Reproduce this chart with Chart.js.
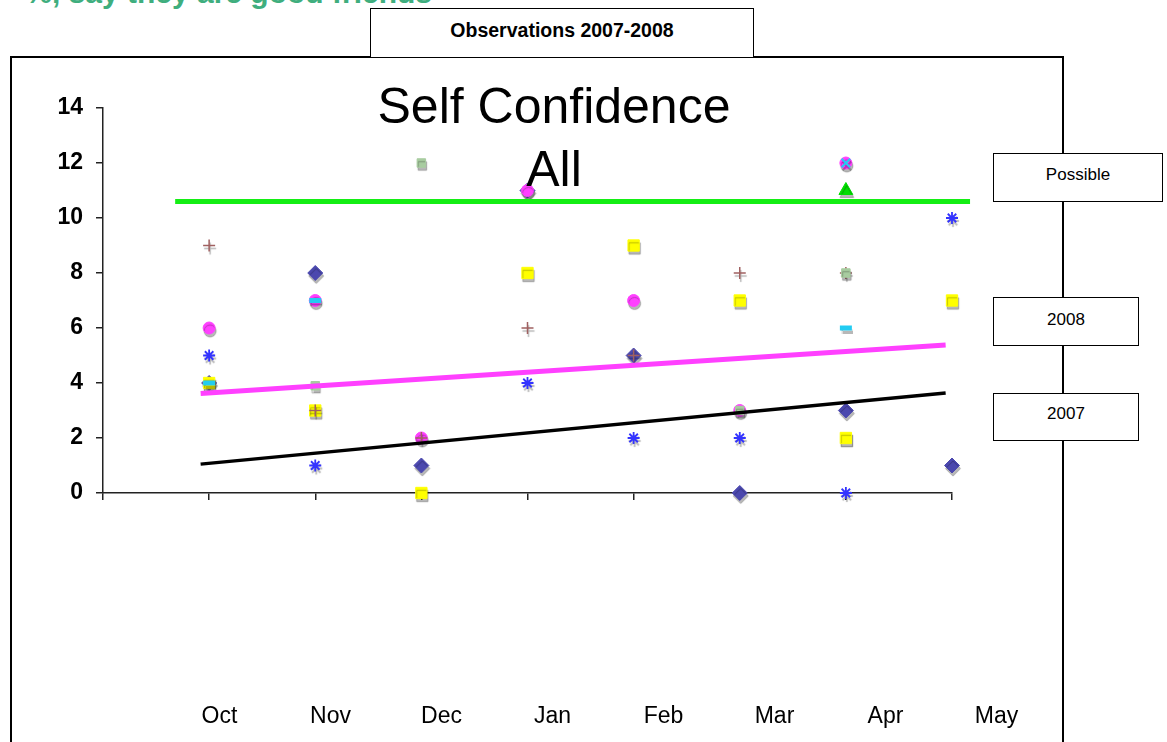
<!DOCTYPE html>
<html>
<head>
<meta charset="utf-8">
<script src="https://cdn.jsdelivr.net/npm/chart.js"></script>
<style>
  body { margin: 0; background: #fff; font-family: "Liberation Sans", Arial, sans-serif; }
  #wrap { position: relative; width: 1167px; height: 742px; overflow: hidden; }
  #chart { position: absolute; left: 0; top: 0; }
  .box { position: absolute; border: 1.5px solid #000; background: #fff; text-align: center; box-sizing: border-box; }
  .frame { position: absolute; left: 10px; top: 56px; width: 1054px; height: 720px; border: 2px solid #000; box-sizing: border-box; }
  .heading { position: absolute; right: 735px; top: -24px; white-space: nowrap; color: #3fae7e; font-weight: bold; font-size: 30px; }
  .title { position: absolute; left: 304px; width: 500px; top: 75px; text-align: center; font-size: 50px; line-height: 63px; color: #000; }
  .months { position: absolute; left: 164px; top: 702px; display: flex; }
  .months div { width: 111px; text-align: center; font-size: 23px; }
</style>
</head>
<body>
<div id="wrap">
  <div class="frame"></div>
  <div class="heading">%, say they are good friends</div>
  <canvas id="chart" width="1167" height="742"></canvas>
  <div class="box" style="left:370px;top:8px;width:384px;height:50px;font-weight:bold;font-size:19.5px;padding-top:10px;">Observations 2007-2008</div>
  <div class="title">Self Confidence<br>All</div>
  <div class="box" style="left:993px;top:153px;width:170px;height:49px;font-size:17px;padding-top:11px;" id="lblPossible"></div>
  <div class="box" style="left:993px;top:297px;width:146px;height:49px;font-size:17px;padding-top:12px;" id="lbl2008"></div>
  <div class="box" style="left:993px;top:393px;width:146px;height:48px;font-size:17px;padding-top:10px;" id="lbl2007"></div>
  <div class="months" id="months"></div>
</div>
<script>
// months along the bottom, one per observation
const months = ['Oct', 'Nov', 'Dec', 'Jan', 'Feb', 'Mar', 'Apr', 'May'];
const xPos = [1, 2, 3, 4, 5, 6, 7, 8];
const yTicks = [0, 2, 4, 6, 8, 10, 12, 14];

// observed scores per marker series (null = no point)
const diamondVals  = [4, 8, 1, 11, 5, 0, 3, 1];
const squareVals   = [4, 3, 0, 8, 9, 7, 2, 7];
const circleVals   = [6, 7, 2, 11, 7, 3, 12, null];
const starVals     = [5, 1, null, 4, 2, 2, 0, 10];
const plusVals     = [9, 3, 2, 6, 5, 8, 8, null];
const dashVals     = [4, 7, null, null, null, null, 6, null];
const sageVals     = [null, 3.9, 12, null, null, 3, 8, null];
const triangleVals = [null, null, null, null, null, null, 11, null];
const crossVals    = [null, null, null, null, null, null, 12, null];

// reference / trend lines: [start, end]
const lineNames = ['Possible', '2008', '2007'];
const possibleX = [0.68, 8.17];
const possibleY = [10.6, 10.6];
const trend2008X = [0.92, 7.94];
const trend2008Y = [3.62, 5.38];
const trend2007X = [0.92, 7.94];
const trend2007Y = [1.05, 3.64];

document.getElementById('lblPossible').textContent = lineNames[0];
document.getElementById('lbl2008').textContent = lineNames[1];
document.getElementById('lbl2007').textContent = lineNames[2];
const monthsDiv = document.getElementById('months');
months.forEach(m => {
  const d = document.createElement('div');
  d.textContent = m;
  monthsDiv.appendChild(d);
});

const toPoints = (vals) => xPos.map((x, i) => ({ x: x, y: vals[i] })).filter(p => p.y !== null);
const toLine = (xs, ys) => xs.map((x, i) => ({ x: x, y: ys[i] }));

const markers = (label, vals, style, radius, bg, border, bw, order) => ({
  label, data: toPoints(vals), pointStyle: style, pointRadius: radius, pointHoverRadius: radius,
  backgroundColor: bg, borderColor: border, borderWidth: bw, order, shadow: true, clip: false
});
const trend = (label, xs, ys, color, width) => ({
  type: 'line', label, data: toLine(xs, ys), showLine: true, borderColor: color,
  borderWidth: width, pointRadius: 0, fill: false, order: 0, clip: false
});

// grey drop shadow under markers, like the original
const shadowPlugin = {
  id: 'markerShadow',
  beforeDatasetDraw(chart, args) {
    if (!chart.data.datasets[args.index].shadow) return;
    const ctx = chart.ctx;
    ctx.save();
    ctx.shadowColor = 'rgba(0,0,0,0.28)';
    ctx.shadowOffsetX = 1;
    ctx.shadowOffsetY = 3;
    ctx.shadowBlur = 1;
  },
  afterDatasetDraw(chart, args) {
    if (!chart.data.datasets[args.index].shadow) return;
    chart.ctx.restore();
  }
};

new Chart(document.getElementById('chart'), {
  type: 'scatter',
  data: {
    datasets: [
      trend(lineNames[0], possibleX, possibleY, '#14ee14', 5),
      trend(lineNames[1], trend2008X, trend2008Y, '#ff40ff', 5),
      trend(lineNames[2], trend2007X, trend2007Y, '#000000', 3.5),
      markers('s1', diamondVals, 'rectRot', 7.5, '#4b48ae', '#4b48ae', 1, 9),
      markers('s2', squareVals, 'rect', 8, '#ffff00', '#ffff00', 1, 8),
      markers('s3', circleVals, 'circle', 6, '#ff40ff', '#ff40ff', 1, 7),
      markers('s4', starVals, 'star', 6, 'rgba(0,0,0,0)', '#3333ff', 1.8, 6),
      markers('s5', plusVals, 'cross', 6, 'rgba(0,0,0,0)', '#a06060', 1.5, 5),
      markers('s6', dashVals, 'line', 6, '#22ccf2', '#22ccf2', 5, 4),
      markers('s7', sageVals, 'rect', 6, '#a8cca0', '#a8cca0', 1, 3),
      markers('s8', triangleVals, 'triangle', 8, '#00dd00', '#00dd00', 1, 2),
      markers('s9', crossVals, 'crossRot', 6, 'rgba(0,0,0,0)', '#22ccf2', 2, 1)
    ]
  },
  options: {
    responsive: false,
    animation: false,
    devicePixelRatio: 1,
    layout: { padding: { left: 0, top: 108, right: 215, bottom: 229 } },
    plugins: { legend: { display: false }, tooltip: { enabled: false } },
    scales: {
      x: {
        type: 'linear', min: 0, max: 8,
        ticks: { stepSize: 1, display: false },
        grid: { drawOnChartArea: false, drawTicks: true, tickLength: 7, color: '#222', lineWidth: 1.5 },
        border: { color: '#222', width: 1.5 },
        afterFit(scale) { scale.height = 20; }
      },
      y: {
        min: 0, max: 14,
        afterBuildTicks(scale) { scale.ticks = yTicks.map(v => ({ value: v })); },
        ticks: { padding: 13, color: '#000', font: { family: 'Liberation Sans, Arial', size: 23, weight: 'bold' } },
        grid: { drawOnChartArea: false, drawTicks: true, tickLength: 7, color: '#222', lineWidth: 1.5 },
        border: { color: '#222', width: 1.5 },
        afterFit(scale) { scale.width = 103; }
      }
    }
  },
  plugins: [shadowPlugin]
});
</script>
</body>
</html>
